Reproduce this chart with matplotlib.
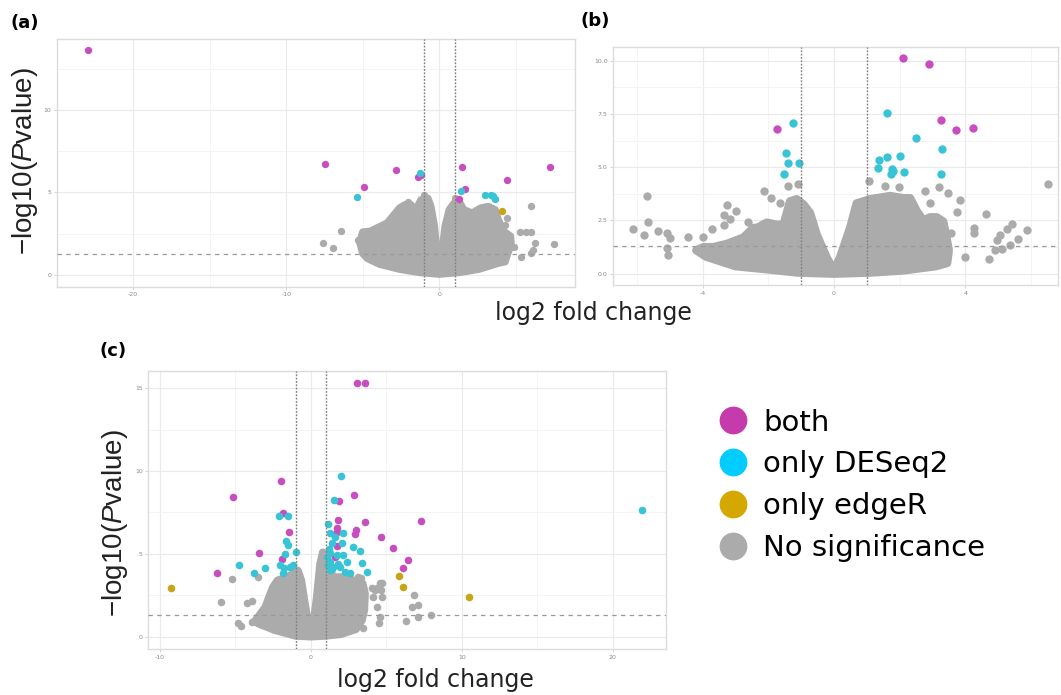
import matplotlib
matplotlib.use('Agg')
import matplotlib.pyplot as plt
from matplotlib.lines import Line2D

plt.rcParams['axes.unicode_minus'] = False
plt.rcParams['mathtext.fontset'] = 'custom'
plt.rcParams['mathtext.rm'] = 'Liberation Sans'
plt.rcParams['mathtext.it'] = 'Liberation Sans:italic'

# ---------------- colours / categories ----------------
categories = ['both', 'only DESeq2', 'only edgeR', 'No significance']
legend_colors = ['#C63BAB', '#00CCFF', '#D4A800', '#ABABAB']
point_colors = ['#C84EC0', '#38C4D6', '#C9A416', '#ABABAB']

# ---------------- panel (a) ----------------
a_both = [(-22.97, 13.65), (-7.48, 6.75), (-4.90, 5.34), (-2.80, 6.33), (-1.40, 5.91),
          (-1.18, 6.05), (1.46, 6.55), (1.66, 5.22), (1.29, 4.62), (4.45, 5.75), (7.23, 6.55)]
a_deseq = [(-5.38, 4.70), (-1.25, 6.19), (1.40, 5.10), (2.97, 4.82), (3.40, 4.82),
           (3.65, 4.62), (3.52, 4.76)]
a_edger = [(4.09, 3.85)]
a_gray = [(-6.45, 2.68), (-7.57, 1.92), (-6.92, 1.65), (5.98, 4.19), (5.27, 2.58),
          (5.66, 2.58), (5.98, 2.58), (6.28, 1.96), (7.48, 1.85), (6.13, 1.51),
          (5.98, 1.31), (5.33, 1.07), (4.90, 1.71), (4.41, 3.43), (4.30, 3.02),
          (-0.97, 4.84), (-1.15, 4.55), (1.00, 4.65), (-2.04, 4.44), (-5.30, 2.10)]
# upper / lower outline of the dense grey cloud (marker centres)
a_cloud = [(-5.0, 1.3), (-5.2, 2.0), (-5.0, 2.6), (-4.5, 2.65), (-3.4, 3.15), (-2.6, 4.05),
           (-2.25, 4.25), (-1.85, 4.25), (-1.55, 3.9), (-1.2, 4.55), (-0.75, 4.65),
           (-0.55, 4.15), (-0.32, 2.95), (-0.12, 1.0), (0.0, 0.25), (0.15, 1.2),
           (0.38, 2.95), (0.65, 3.95), (0.97, 4.35), (1.29, 4.45), (1.6, 3.95),
           (2.15, 3.75), (2.7, 4.05), (3.2, 4.15), (3.65, 3.95), (3.85, 3.35), (4.2, 2.65),
           (4.65, 2.35), (4.7, 1.85), (4.45, 1.25), (4.3, 0.8),
           (3.8, 0.7), (2.6, 0.35), (1.3, 0.15), (0.0, 0.05), (-1.3, 0.15), (-2.6, 0.35),
           (-3.9, 0.65), (-4.7, 1.0)]

# ---------------- panel (b) ----------------
b_both = [(2.09, 10.14), (2.91, 9.83), (3.26, 7.23), (3.71, 6.73), (4.25, 6.84), (-1.73, 6.81)]
b_deseq = [(-1.26, 7.09), (-1.46, 5.69), (-1.41, 5.19), (-1.06, 5.19), (-1.51, 4.69),
           (1.61, 7.53), (2.49, 6.39), (3.28, 5.84), (3.26, 4.69), (1.37, 5.36),
           (1.61, 5.47), (2.01, 5.52), (1.34, 4.98), (1.76, 4.91), (1.81, 4.83),
           (1.74, 4.69), (2.14, 4.77)]
b_edger = []
b_gray = [(6.51, 4.20), (-5.69, 3.67), (-6.14, 2.11), (-5.79, 1.80), (-5.68, 2.44),
          (-5.36, 2.02), (-5.10, 1.89), (-5.0, 1.70), (-5.10, 1.19), (-5.05, 0.88),
          (-4.46, 1.73), (-4.01, 1.73), (-3.71, 2.08), (-3.36, 2.27), (-3.27, 3.22),
          (-3.35, 2.75), (-3.17, 2.56), (-3.0, 2.95), (-2.61, 2.44), (-2.13, 3.88),
          (-1.91, 3.55), (-1.64, 3.31), (-1.40, 4.13), (-1.11, 4.22), (1.07, 4.36),
          (1.54, 4.13), (1.98, 4.05), (2.78, 3.89), (3.20, 4.09), (3.48, 3.81),
          (3.84, 3.45), (3.74, 2.91), (2.93, 3.33), (4.63, 2.81), (4.28, 2.16),
          (4.28, 1.89), (3.57, 1.89), (3.98, 0.78), (4.72, 0.67), (5.42, 2.33),
          (5.26, 2.08), (5.06, 1.80), (4.96, 1.58), (4.91, 1.11), (5.87, 2.05),
          (5.62, 1.61), (5.37, 1.34), (5.12, 1.14)]
b_cloud = [(-4.2, 1.1), (-3.98, 1.25), (-3.68, 1.25), (-3.27, 1.4), (-2.76, 1.7),
           (-2.46, 2.15), (-2.35, 2.15), (-2.05, 2.4), (-1.74, 2.3), (-1.54, 2.3),
           (-1.34, 3.4), (-1.14, 3.5), (-0.93, 3.25), (-0.73, 2.85), (-0.53, 1.85),
           (-0.22, 0.75), (0.0, 0.15), (0.18, 0.75), (0.49, 2.15), (0.69, 3.3),
           (0.89, 3.4), (1.1, 3.5), (1.3, 3.55), (1.71, 3.65), (2.11, 3.55), (2.32, 3.55),
           (2.52, 2.95), (2.72, 2.5), (2.93, 2.65), (3.13, 2.65), (3.33, 2.45),
           (3.43, 1.7), (3.5, 1.1), (3.45, 0.5),
           (3.1, 0.35), (2.1, 0.15), (1.1, 0.05), (0.0, 0.0), (-1.1, 0.05), (-2.0, 0.2),
           (-3.0, 0.35), (-3.9, 0.8)]

# ---------------- panel (c) ----------------
c_both = [(3.09, 15.29), (3.60, 15.29), (-1.99, 9.42), (-5.12, 8.41), (-1.85, 7.44),
          (-1.41, 6.30), (-3.40, 5.07), (-1.92, 4.71), (-6.18, 3.82), (2.89, 8.55),
          (1.85, 8.21), (1.83, 7.04), (1.77, 6.58), (1.77, 6.30), (3.00, 6.44),
          (2.96, 6.22), (3.60, 6.90), (1.72, 5.47), (1.63, 4.83), (4.68, 6.02),
          (5.43, 5.33), (6.42, 4.63), (6.09, 4.14), (7.28, 6.96)]
c_deseq = [(21.9, 7.65), (2.01, 9.72), (1.57, 8.25), (1.15, 6.80), (-2.10, 7.30),
           (-1.48, 7.30), (-1.63, 5.77), (-1.48, 5.53), (-1.0, 5.09), (-1.68, 4.97),
           (-2.03, 4.33), (-1.77, 4.17), (-1.37, 4.23), (-1.15, 4.33), (-1.85, 3.86),
           (-4.72, 4.33), (-3.75, 3.86), (-3.0, 4.12), (1.28, 6.24), (1.61, 6.04),
           (2.16, 6.24), (2.05, 5.67), (1.39, 5.67), (1.28, 5.03), (1.72, 4.93),
           (2.12, 4.93), (1.28, 4.53), (1.50, 4.23), (1.94, 4.23), (1.28, 4.02),
           (2.43, 4.49), (2.83, 5.39), (3.27, 5.19), (3.40, 4.47), (2.60, 3.86),
           (3.71, 3.92), (1.06, 4.83), (1.17, 4.33), (1.40, 4.10), (1.80, 4.40),
           (1.20, 5.30), (2.30, 3.90)]
c_edger = [(-9.25, 2.96), (5.85, 3.64), (6.11, 3.00), (10.49, 2.39)]
c_gray = [(-5.23, 3.48), (-3.47, 3.62), (-5.94, 2.11), (-4.24, 2.05), (-3.91, 2.17),
          (-4.79, 0.80), (-4.61, 0.64), (-3.91, 0.91), (4.70, 3.22), (4.65, 2.82),
          (4.26, 2.82), (4.15, 2.37), (4.70, 2.37), (4.37, 1.81), (4.59, 1.21),
          (4.55, 0.80), (3.49, 0.50), (6.84, 2.52), (6.69, 1.81), (7.13, 1.91),
          (7.95, 1.33), (7.13, 1.17), (6.31, 0.97), (3.16, 3.62), (3.30, 3.55),
          (4.04, 2.92), (4.37, 2.92), (4.59, 3.22)]
c_cloud = [(-3.7, 0.95), (-3.4, 1.3), (-3.0, 1.8), (-2.8, 2.3), (-2.5, 3.0), (-2.2, 3.4),
           (-1.6, 3.6), (-1.15, 3.8), (-0.85, 4.0), (-0.62, 3.4), (-0.38, 2.0),
           (-0.1, 0.5), (0.0, 0.25), (0.15, 0.6), (0.4, 2.4), (0.62, 4.4), (0.8, 5.1),
           (1.06, 4.9), (1.3, 4.0), (1.5, 3.6), (2.38, 3.6), (2.83, 3.4), (3.45, 3.2),
           (3.6, 2.6), (3.55, 1.6), (3.4, 1.0), (3.0, 0.45),
           (2.0, 0.15), (1.0, 0.05), (0.0, 0.0), (-1.0, 0.05), (-2.4, 0.4), (-3.5, 0.8)]

# thresholds
fc_cut = [-1, 1]
p_cut = 1.30

# axis settings
a_xticks, a_xminor, a_yticks, a_yminor = [-20, -10, 0], [-25, -15, -5, 5], [0, 5, 10], [2.5, 7.5, 12.5]
a_xlabels, a_ylabels = ['-20', '-10', '0'], ['0', '5', '10']
b_xticks, b_xminor, b_yticks, b_yminor = [-4, 0, 4], [-6, -2, 2, 6], [0, 2.5, 5, 7.5, 10], [1.25, 3.75, 6.25, 8.75]
b_xlabels, b_ylabels = ['-4', '0', '4'], ['0.0', '2.5', '5.0', '7.5', '10.0']
c_xticks, c_xminor, c_yticks, c_yminor = [-10, 0, 10, 20], [-5, 5, 15], [0, 5, 10, 15], [2.5, 7.5, 12.5]
c_xlabels, c_ylabels = ['-10', '0', '10', '20'], ['0', '5', '10', '15']

W, H = 1061, 695
fig = plt.figure(figsize=(W / 100, H / 100), dpi=100)


def px_axes(l, t, r, b):
    return fig.add_axes([l / W, 1 - b / H, (r - l) / W, (b - t) / H])


def panel(ax, cloud, gray, both, deseq, edger, xlim, ylim, xt, xm, yt, ym, xl, yl, s):
    d = s ** 0.5
    cx = [p[0] for p in cloud]
    cy = [p[1] for p in cloud]
    ax.fill(cx, cy, facecolor=point_colors[3], edgecolor=point_colors[3],
            linewidth=d, joinstyle='round', zorder=2)
    for pts, col, z in [(gray, point_colors[3], 2), (both, point_colors[0], 4),
                        (deseq, point_colors[1], 4), (edger, point_colors[2], 4)]:
        if pts:
            ax.scatter([p[0] for p in pts], [p[1] for p in pts], s=s, color=col,
                       linewidths=0, zorder=z)
    for v in fc_cut:
        ax.axvline(v, color='#808080', lw=1.0, ls=(0, (1.3, 1.1)), zorder=5)
    ax.axhline(p_cut, color='#999999', lw=0.9, ls=(0, (3.5, 3.5)), zorder=5)
    ax.set_xlim(*xlim)
    ax.set_ylim(*ylim)
    ax.set_xticks(xt)
    ax.set_xticklabels(xl)
    ax.set_xticks(xm, minor=True)
    ax.set_yticks(yt)
    ax.set_yticklabels(yl)
    ax.set_yticks(ym, minor=True)
    ax.set_axisbelow(True)
    ax.grid(which='major', color='#EAEAEA', lw=0.8)
    ax.grid(which='minor', color='#F2F2F2', lw=0.6)
    for sp in ax.spines.values():
        sp.set_color('#DCDCDC')
        sp.set_linewidth(1.0)
    ax.tick_params(which='major', labelsize=4.5, labelcolor='#8A8A8A', length=2,
                   color='#CCCCCC', width=0.6, pad=2)
    ax.tick_params(which='minor', length=0)


ax_a = px_axes(56.7, 38.5, 575.5, 286.7)
panel(ax_a, a_cloud, a_gray, a_both, a_deseq, a_edger, (-24.5, 8.9), (-0.71, 14.32),
      a_xticks, a_xminor, a_yticks, a_yminor, a_xlabels, a_ylabels, 28)

ax_b = px_axes(613.3, 46.5, 1058, 285)
panel(ax_b, b_cloud, b_gray, b_both, b_deseq, b_edger, (-6.73, 6.83), (-0.53, 10.67),
      b_xticks, b_xminor, b_yticks, b_yminor, b_xlabels, b_ylabels, 36)

ax_c = px_axes(148.3, 371, 665.7, 649.3)
panel(ax_c, c_cloud, c_gray, c_both, c_deseq, c_edger, (-10.75, 23.5), (-0.76, 16.04),
      c_xticks, c_xminor, c_yticks, c_yminor, c_xlabels, c_ylabels, 30)

# panel letters
for lab, (x, y) in zip(['(a)', '(b)', '(c)'], [(25, 23), (595, 21), (113, 351)]):
    fig.text(x / W, 1 - y / H, lab, fontsize=13, fontweight='bold', ha='center', va='center',
             family='DejaVu Sans')

# axis titles
xlab = 'log2 fold change'
ylab = '\u2212log10($\\mathit{P}$value)'
fig.text(593 / W, 1 - 313 / H, xlab, fontsize=17, ha='center', va='center', color='#222222')
fig.text(435 / W, 1 - 680 / H, xlab, fontsize=17, ha='center', va='center', color='#222222')
fig.text(25 / W, 1 - 161 / H, ylab, fontsize=20, rotation=90, ha='center', va='center',
         family='Liberation Sans', color='#222222')
fig.text(115 / W, 1 - 523 / H, ylab, fontsize=20, rotation=90, ha='center', va='center',
         family='Liberation Sans', color='#222222')

# legend
handles = [Line2D([], [], ls='none', marker='o', markersize=20, markerfacecolor=c,
                  markeredgewidth=0) for c in legend_colors]
fig.legend(handles, categories, loc='center left', bbox_to_anchor=(718.5 / W, 1 - 485.2 / H),
           frameon=False, fontsize=21, handlelength=1.0, handletextpad=0.53,
           labelspacing=0.47, borderpad=0, borderaxespad=0)

fig.savefig('out.png', dpi=100)
